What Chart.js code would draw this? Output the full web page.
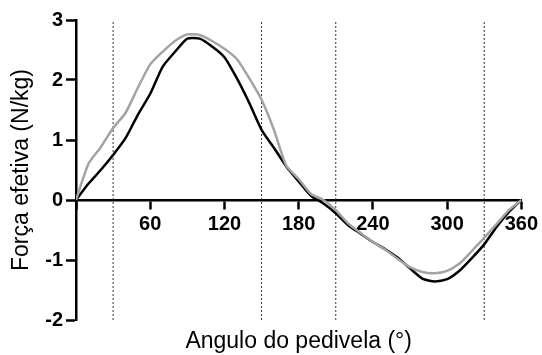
<!DOCTYPE html>
<html>
<head>
<meta charset="utf-8">
<script src="https://cdn.jsdelivr.net/npm/chart.js@4"></script>
<style>
  body { margin: 0; background: #fff; }
</style>
</head>
<body>
<canvas id="chart" width="542" height="355"></canvas>
<script>
// angulo do pedivela (graus)
const angulos = [0, 10, 20, 30, 40, 50, 60, 70, 80, 90, 100, 110, 120, 130, 140, 150, 160, 170, 180,
                 190, 200, 210, 220, 230, 240, 250, 260, 270, 280, 290, 300, 310, 320, 330, 340, 350, 360];
// forca efetiva (N/kg) - curva preta
const forcaPreta = [0, 0.27, 0.50, 0.75, 1.03, 1.42, 1.77, 2.22, 2.47, 2.69, 2.69, 2.56, 2.38, 2.03, 1.62, 1.17, 0.87, 0.56, 0.31,
                    0.07, -0.06, -0.22, -0.42, -0.56, -0.70, -0.82, -0.96, -1.14, -1.31, -1.36, -1.32, -1.18, -0.97, -0.74, -0.45, -0.20, 0];
// forca efetiva (N/kg) - curva cinza
const forcaCinza = [0, 0.60, 0.88, 1.20, 1.45, 1.87, 2.26, 2.47, 2.65, 2.76, 2.75, 2.65, 2.52, 2.35, 2.03, 1.67, 1.17, 0.57, 0.35,
                    0.10, 0.00, -0.17, -0.39, -0.55, -0.70, -0.83, -0.98, -1.12, -1.20, -1.22, -1.18, -1.06, -0.85, -0.63, -0.40, -0.17, 0];
// linhas verticais pontilhadas
const linhasVerticais = [30, 150, 210, 330];
const yMin = -2, yMax = 3;

const ctx = document.getElementById('chart').getContext('2d');

const datasets = [
    {
        data: angulos.map((a, i) => ({ x: a, y: forcaCinza[i] })),
        borderColor: '#a3a3a3',
        borderWidth: 2.5,
        pointRadius: 0,
        tension: 0.2
    },
    {
        data: angulos.map((a, i) => ({ x: a, y: forcaPreta[i] })),
        borderColor: '#000',
        borderWidth: 2.5,
        pointRadius: 0,
        tension: 0.2
    }
];

linhasVerticais.forEach(v => {
    datasets.push({
        data: [{ x: v, y: yMin }, { x: v, y: yMax }],
        borderColor: '#333',
        borderWidth: 1,
        borderDash: [2, 2],
        pointRadius: 0
    });
});

const myChart = new Chart(ctx, {
    type: 'line',
    data: { datasets: datasets },
    options: {
        responsive: false,
        animation: false,
        layout: { padding: { top: 20, right: 19, left: 0, bottom: 0 } },
        plugins: { legend: { display: false }, tooltip: { enabled: false } },
        scales: {
            x: {
                type: 'linear',
                position: { y: 0 },
                min: 0,
                max: 360,
                grid: { drawOnChartArea: false, tickLength: 8, tickWidth: 2.5, color: '#000' },
                border: { color: '#000', width: 2.5 },
                ticks: {
                    stepSize: 60,
                    padding: 4,
                    color: '#000',
                    font: { family: 'Liberation Sans, Arial', size: 20, weight: 'bold' },
                    callback: v => v === 0 ? '' : v
                }
            },
            x2: {
                type: 'linear',
                position: 'bottom',
                min: 0,
                max: 360,
                grid: { display: false },
                border: { display: false },
                ticks: { display: false },
                title: {
                    display: true,
                    text: 'Angulo do pedivela (°)',
                    color: '#000',
                    padding: { top: 0, bottom: 0 },
                    font: { family: 'Liberation Sans, Arial', size: 23 }
                },
                afterFit: s => { s.height = 35; }
            },
            y: {
                min: yMin,
                max: yMax,
                grid: { drawOnChartArea: false, tickLength: 10, tickWidth: 2.5, color: '#000' },
                border: { color: '#000', width: 2.5 },
                ticks: {
                    stepSize: 1,
                    padding: 3,
                    color: '#000',
                    font: { family: 'Liberation Sans, Arial', size: 20, weight: 'bold' }
                },
                title: {
                    display: true,
                    text: 'Força efetiva (N/kg)',
                    color: '#000',
                    padding: { top: 8, bottom: 0 },
                    font: { family: 'Liberation Sans, Arial', size: 23 }
                },
                afterFit: s => { s.width = 76; }
            }
        }
    }
});
</script>
</body>
</html>
